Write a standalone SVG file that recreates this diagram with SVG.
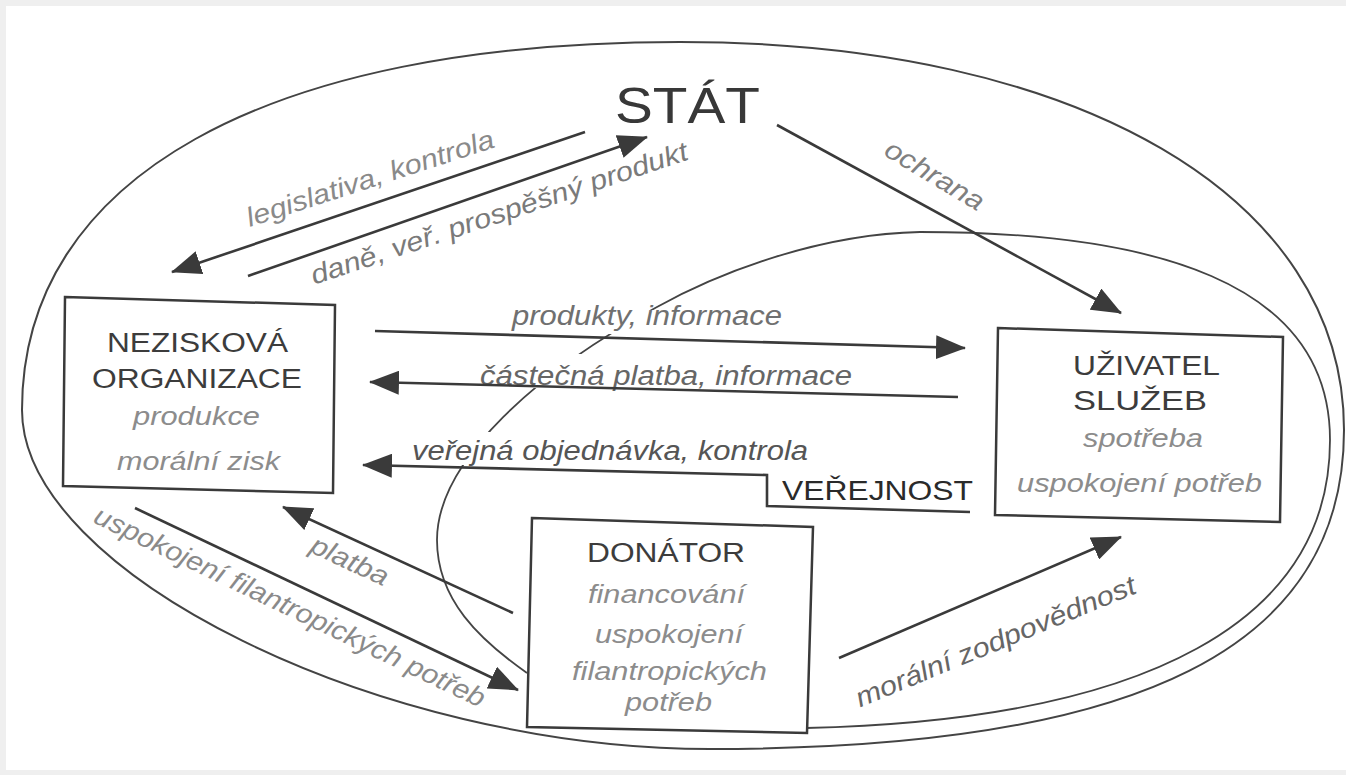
<svg xmlns="http://www.w3.org/2000/svg" width="1346" height="775" viewBox="0 0 1346 775">
<defs>
<marker id="ah" viewBox="0 0 30 24" refX="29" refY="12" markerWidth="30" markerHeight="24" markerUnits="userSpaceOnUse" orient="auto">
<path d="M0,0 L30,12 L0,24 z" fill="#3a3a3a"/>
</marker>
<style>
.t{font-family:"Liberation Sans",Arial,sans-serif;}
.title{font-size:27px;fill:#3c3c3c;}
.sub{font-size:25px;fill:#8c8c8c;font-style:italic;}
.lab{font-size:27px;font-style:italic;fill:#707070;}
.box{fill:#fff;stroke:#3a3a3a;stroke-width:2.5;}
.ln{fill:none;stroke:#3a3a3a;stroke-width:2.6;marker-end:url(#ah);}
.knock{fill:#fff;}
</style>
</defs>
<rect x="0" y="0" width="1346" height="775" fill="#efefef"/>
<rect x="6" y="6" width="1340" height="764" fill="#fff"/>

<g id="verejnost-curves">
<path d="M22,410 C22,178 265,42 680,42 C1079,42 1344,197 1344,430 C1344,647 1142,749 710,749 C380,749 22,573 22,410 Z" fill="none" stroke="#444" stroke-width="2"/>
<path d="M527,673 C480,640 437,600 437,540 C437,460 540,370 657,307 C720,272 820,234 920,232 C1150,232 1330,280 1330,440 C1330,620 1150,720 806,728" fill="none" stroke="#444" stroke-width="1.8"/>
</g>

<g id="label-backgrounds">
<rect class="knock" x="505" y="310" width="285" height="24"/>
<rect class="knock" x="475" y="354" width="381" height="34"/>
<rect class="knock" x="405" y="432" width="405" height="33"/>
</g>

<g id="stat">
<text class="t" x="615" y="123" font-size="50" fill="#383838" textLength="145" lengthAdjust="spacingAndGlyphs">STÁT</text>
</g>

<g id="labels">
<text class="t lab" x="512" y="325" textLength="270" lengthAdjust="spacingAndGlyphs">produkty, informace</text>
<text class="t lab" x="480" y="385" textLength="372" lengthAdjust="spacingAndGlyphs" style="fill:#666">částečná platba, informace</text>
<text class="t lab" x="412" y="460" textLength="396" lengthAdjust="spacingAndGlyphs" style="fill:#555">veřejná objednávka, kontrola</text>
<text class="t" x="782" y="500" font-size="28" fill="#2a2a2a" textLength="191" lengthAdjust="spacingAndGlyphs">VEŘEJNOST</text>
<text class="t lab" text-anchor="middle" transform="translate(373,187) rotate(-18)" textLength="259" lengthAdjust="spacingAndGlyphs" style="fill:#8a8a8a">legislativa, kontrola</text>
<text class="t lab" text-anchor="middle" transform="translate(502,222) rotate(-18.5)" textLength="396" lengthAdjust="spacingAndGlyphs" style="fill:#7a7a7a">daně, veř. prospěšný produkt</text>
<text class="t lab" text-anchor="middle" transform="translate(930,183) rotate(31)" textLength="111" lengthAdjust="spacingAndGlyphs" style="fill:#808080">ochrana</text>
<text class="t lab" text-anchor="middle" transform="translate(346,569) rotate(25)" textLength="83" lengthAdjust="spacingAndGlyphs" style="fill:#888">platba</text>
<text class="t lab" text-anchor="middle" transform="translate(286,615) rotate(25.6)" textLength="430" lengthAdjust="spacingAndGlyphs" style="fill:#8a8a8a">uspokojení filantropických potřeb</text>
<text class="t lab" text-anchor="middle" transform="translate(999,650) rotate(-22.5)" textLength="301" lengthAdjust="spacingAndGlyphs" style="fill:#666">morální zodpovědnost</text>
</g>

<g id="connectors">
<line class="ln" x1="585" y1="132" x2="172" y2="272"/>
<line class="ln" x1="248" y1="276" x2="647" y2="137"/>
<line class="ln" x1="777" y1="125" x2="1121" y2="313"/>
<line class="ln" x1="375" y1="331" x2="965" y2="348"/>
<line class="ln" x1="958" y1="397" x2="370" y2="382"/>
<polyline class="ln" points="970,512 767,506 767,475 363,465"/>
<line class="ln" x1="513" y1="613" x2="283" y2="507"/>
<line class="ln" x1="135" y1="508" x2="518" y2="690"/>
<line class="ln" x1="839" y1="658" x2="1121" y2="537"/>
</g>

<g id="neziskova-organizace">
<path class="box" d="M65,297 L335,305 L333,493 L63,486 Z"/>
<text class="t title" x="107" y="352" textLength="181" lengthAdjust="spacingAndGlyphs">NEZISKOVÁ</text>
<text class="t title" x="92" y="388" textLength="210" lengthAdjust="spacingAndGlyphs">ORGANIZACE</text>
<text class="t sub" x="133" y="425" textLength="127" lengthAdjust="spacingAndGlyphs">produkce</text>
<text class="t sub" x="117" y="470" textLength="163" lengthAdjust="spacingAndGlyphs">morální zisk</text>
</g>

<g id="uzivatel-sluzeb">
<path class="box" d="M998,328 L1283,337 L1280,522 L995,515 Z"/>
<text class="t title" x="1073" y="375" textLength="147" lengthAdjust="spacingAndGlyphs">UŽIVATEL</text>
<text class="t title" x="1073" y="410" textLength="134" lengthAdjust="spacingAndGlyphs">SLUŽEB</text>
<text class="t sub" x="1083" y="447" textLength="120" lengthAdjust="spacingAndGlyphs">spotřeba</text>
<text class="t sub" x="1017" y="492" textLength="245" lengthAdjust="spacingAndGlyphs">uspokojení potřeb</text>
</g>

<g id="donator">
<path class="box" d="M532,518 L813,527 L807,733 L527,727 Z"/>
<text class="t title" x="587" y="562" textLength="158" lengthAdjust="spacingAndGlyphs">DONÁTOR</text>
<text class="t sub" x="588" y="603" textLength="157" lengthAdjust="spacingAndGlyphs">financování</text>
<text class="t sub" x="595" y="643" textLength="148" lengthAdjust="spacingAndGlyphs">uspokojení</text>
<text class="t sub" x="572" y="680" textLength="195" lengthAdjust="spacingAndGlyphs">filantropických</text>
<text class="t sub" x="625" y="711" textLength="87" lengthAdjust="spacingAndGlyphs">potřeb</text>
</g>
</svg>
